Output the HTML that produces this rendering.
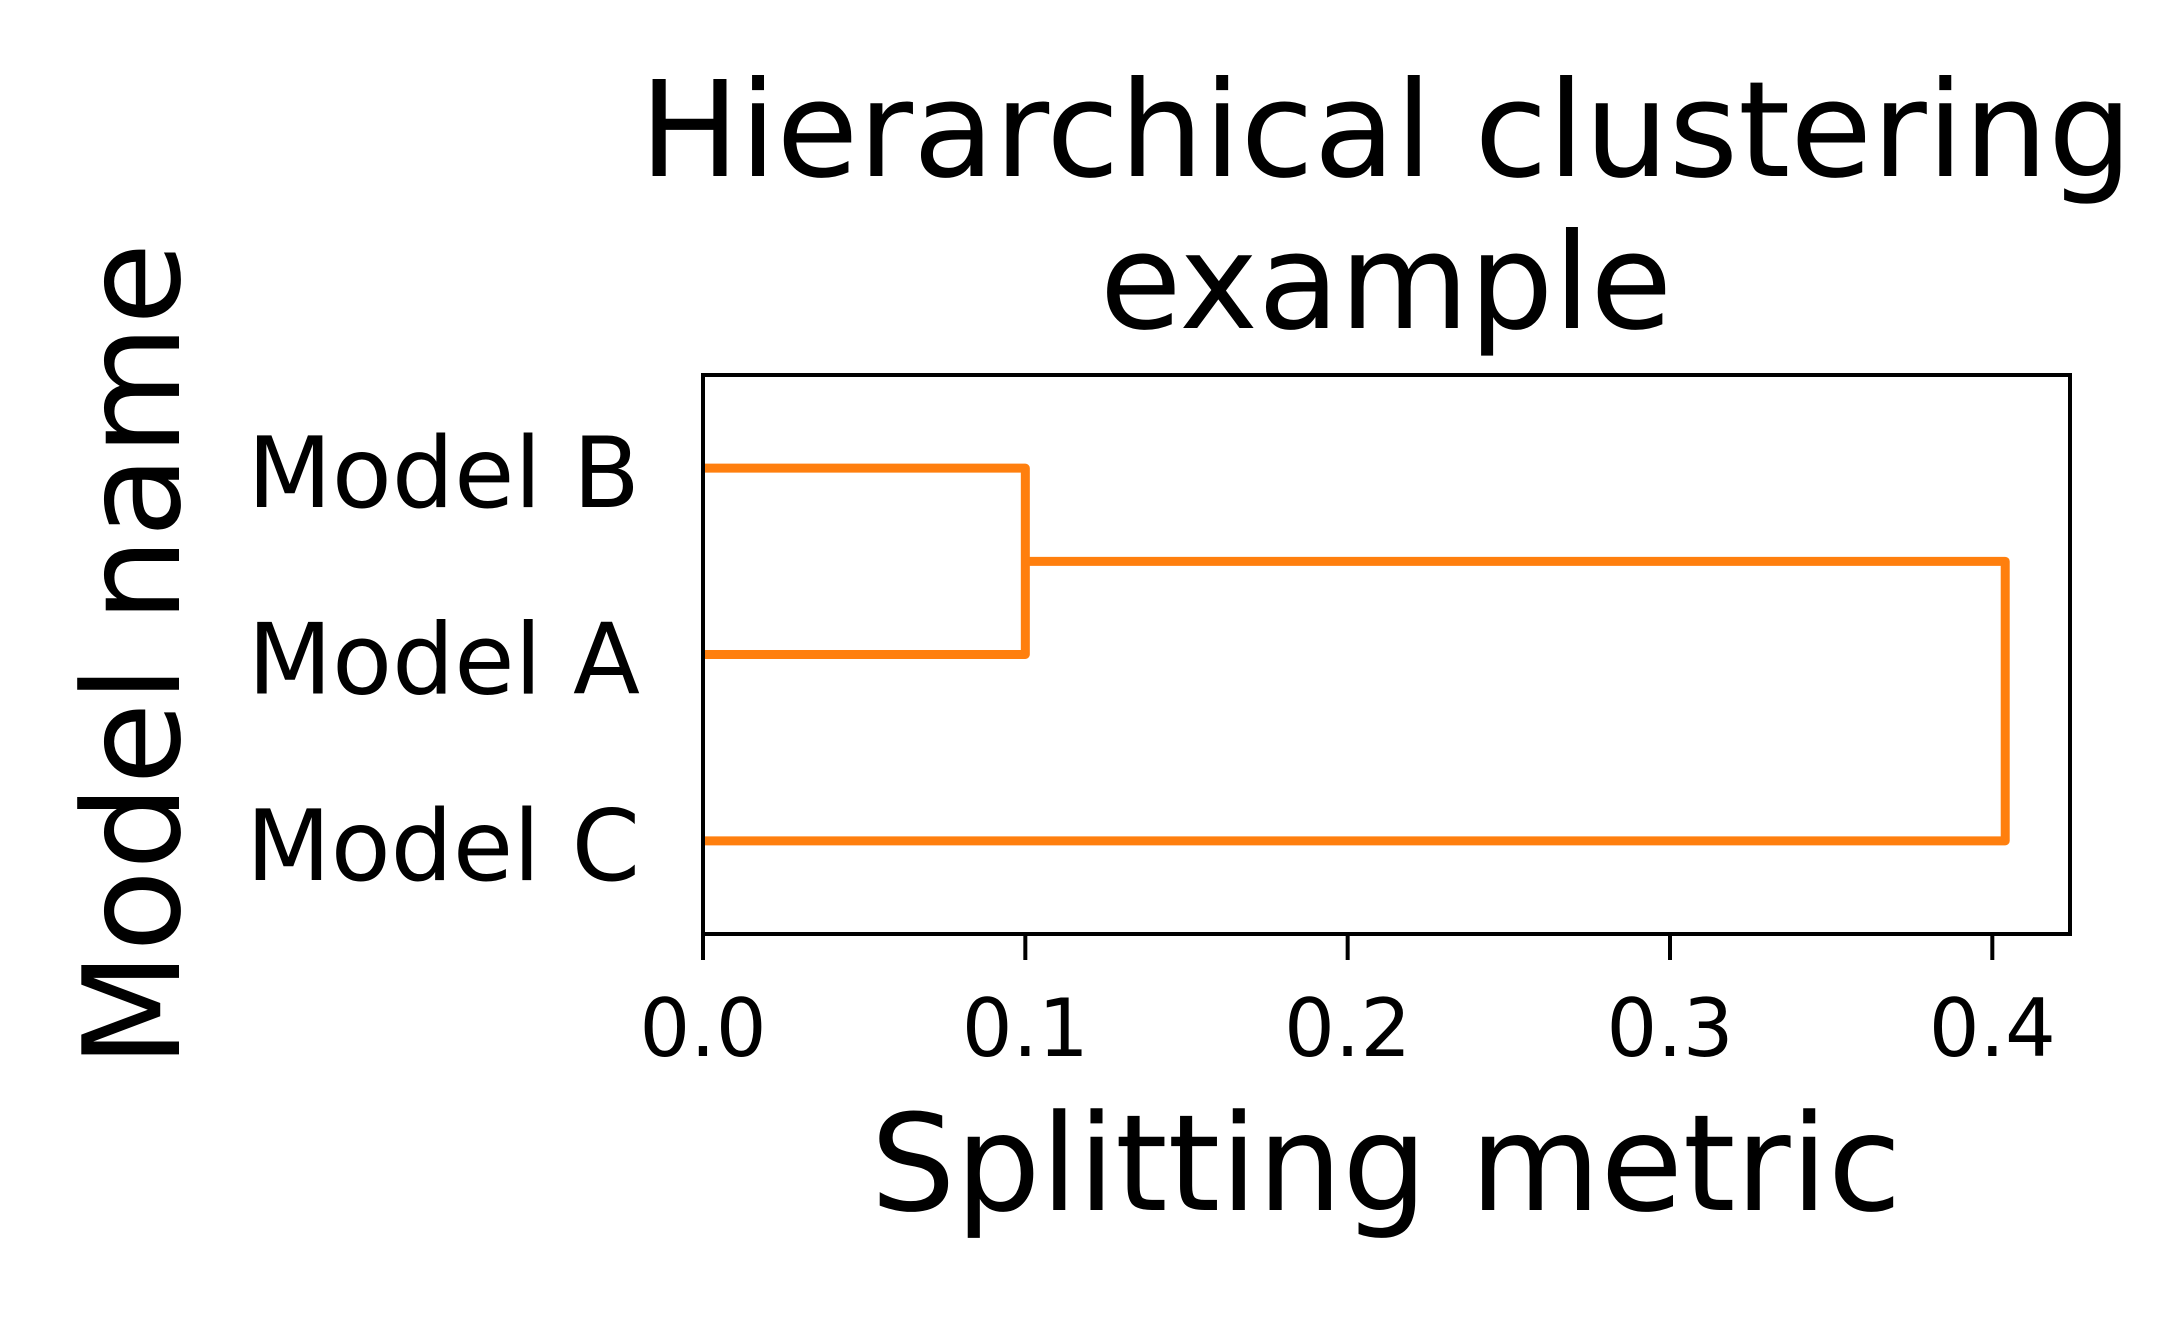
<!DOCTYPE html>
<html><head><meta charset="utf-8"><style>html,body{margin:0;padding:0;background:#fff}svg{display:block}text{font-family:"DejaVu Sans","Liberation Sans",sans-serif;fill:#000}</style></head>
<body>
<svg id="chart" width="2160" height="1320" viewBox="0 0 2160 1320" xmlns="http://www.w3.org/2000/svg">
<text x="1386" y="176" font-size="133" text-anchor="middle">Hierarchical clustering</text>
<text x="1386" y="328" font-size="133" text-anchor="middle">example</text>
<g id="marks"></g>
<g id="xaxis"></g>
<g id="yaxis"></g>
<rect x="703" y="375" width="1367" height="559" fill="none" stroke="#000" stroke-width="4"/>
<text x="1386" y="1210" font-size="134" text-anchor="middle">Splitting metric</text>
<text transform="translate(179,655) rotate(-90)" font-size="134" text-anchor="middle">Model name</text>
</svg>
<script>
const leafLabels = ["Model C", "Model A", "Model B"];
const leafPositions = [5, 15, 25];
const linkDist = [[0, 0.1, 0.1, 0], [0, 0.404, 0.404, 0.1]];
const linkPos = [[15, 15, 25, 25], [5, 5, 20, 20]];
const xTicks = [0, 0.1, 0.2, 0.3, 0.4];
const xTickLabels = ["0.0", "0.1", "0.2", "0.3", "0.4"];
const L = 703, R = 2070, T = 375, B = 934;
const xMax = 0.4241, yMax = 30;
const sx = v => L + v / xMax * (R - L);
const sy = v => B - v / yMax * (B - T);
const NS = "http://www.w3.org/2000/svg";
const marks = document.getElementById('marks');
linkDist.forEach((d, i) => {
  const p = linkPos[i];
  const pl = document.createElementNS(NS, 'polyline');
  pl.setAttribute('points', d.map((v, j) => sx(v) + ',' + sy(p[j])).join(' '));
  pl.setAttribute('fill', 'none');
  pl.setAttribute('stroke', '#ff7f0e');
  pl.setAttribute('stroke-width', '9');
  pl.setAttribute('stroke-linejoin', 'round');
  
  
  marks.appendChild(pl);
});
const xa = document.getElementById('xaxis');
xTicks.forEach((t, i) => {
  const ln = document.createElementNS(NS, 'line');
  ln.setAttribute('x1', sx(t)); ln.setAttribute('x2', sx(t));
  ln.setAttribute('y1', B); ln.setAttribute('y2', B + 26);
  ln.setAttribute('stroke', '#000'); ln.setAttribute('stroke-width', '4');
  
  
  xa.appendChild(ln);
  const tx = document.createElementNS(NS, 'text');
  tx.setAttribute('x', sx(t)); tx.setAttribute('y', 1056);
  tx.setAttribute('font-size', '80'); tx.setAttribute('text-anchor', 'middle');
  tx.textContent = xTickLabels[i];
  
  
  xa.appendChild(tx);
});
const ya = document.getElementById('yaxis');
leafLabels.forEach((lab, i) => {
  const tx = document.createElementNS(NS, 'text');
  tx.setAttribute('x', 640); tx.setAttribute('y', sy(leafPositions[i]) + 39);
  tx.setAttribute('font-size', '98'); tx.setAttribute('text-anchor', 'end');
  tx.textContent = lab;
  
  
  ya.appendChild(tx);
});
</script>
</body></html>
